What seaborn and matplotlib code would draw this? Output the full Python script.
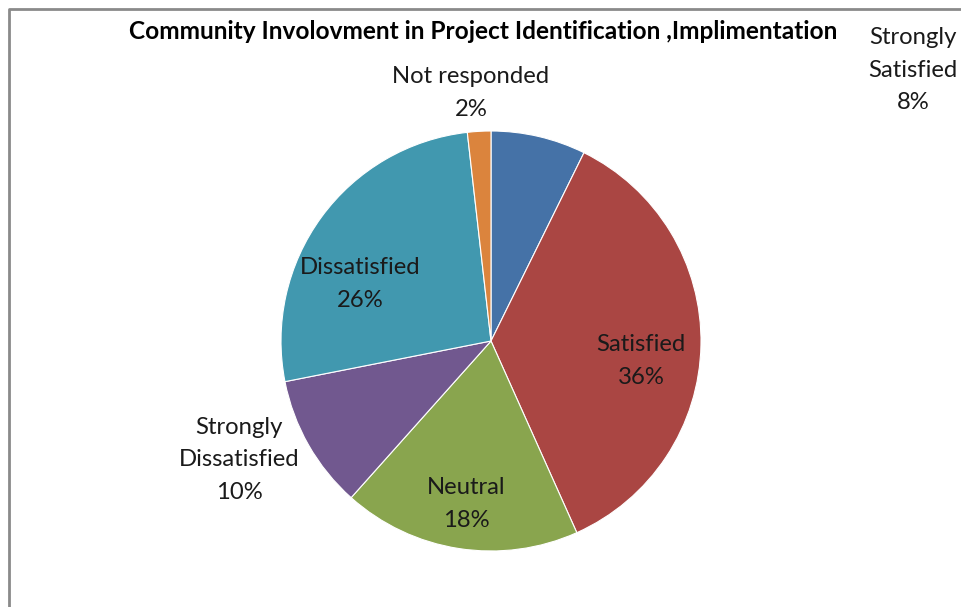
import matplotlib
matplotlib.use("Agg")
import matplotlib.pyplot as plt
import seaborn as sns

categories = ["Strongly\nSatisfied", "Satisfied", "Neutral", "Strongly\nDissatisfied", "Dissatisfied", "Not responded"]
values = [7.3, 36.0, 18.3, 10.3, 26.3, 1.8]
pct_labels = ["8%", "36%", "18%", "10%", "26%", "2%"]
colors = ["#4572A7", "#AA4643", "#89A54E", "#71588F", "#4198AF", "#DB843D"]
title = "Community Involovment in Project Identification ,Implimentation"

sns.set_theme(style="white")
plt.rcParams["font.family"] = ["Lato", "DejaVu Sans"]

W, H = 962, 607
fig = plt.figure(figsize=(W / 100, H / 100), dpi=100)
ax = fig.add_axes([0, 0, 1, 1])

cx, cy, r = 491, H - 341, 210
ax.pie(values, colors=colors, startangle=90, counterclock=False,
       center=(cx, cy), radius=r, frame=True,
       wedgeprops=dict(edgecolor="white", linewidth=0.8))
ax.set_xlim(0, W)
ax.set_ylim(0, H)
ax.set_aspect("equal")
ax.axis("off")

# label positions (pixel coords, top-left origin)
label_pos = [(913, 70), (641, 361), (466, 504), (239, 460), (360, 284), (471, 93)]
for cat, p, (px, py) in zip(categories, pct_labels, label_pos):
    ax.text(px, H - py, cat + "\n" + p, ha="center", va="center",
            fontsize=17.2, color="#1a1a1a", linespacing=1.68)

ax.text(483, H - 31, title, ha="center", va="center", fontsize=17.6,
        fontweight="bold", color="black")

# frame
ax.plot([9, 9, W], [0, H - 9, H - 9], color="#8a8a8a", linewidth=2, clip_on=False)

fig.savefig("out.png", dpi=100)
